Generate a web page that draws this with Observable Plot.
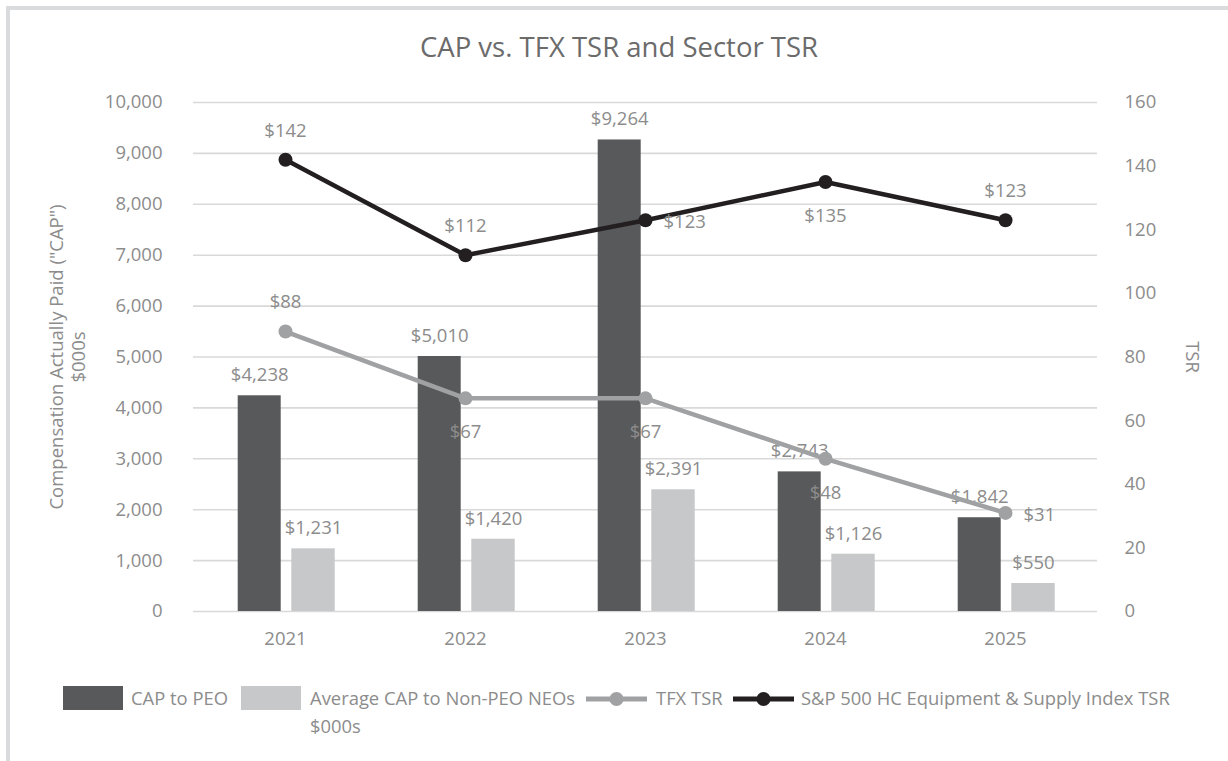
<!DOCTYPE html>
<html><head><meta charset="utf-8">
<script src="https://cdn.jsdelivr.net/npm/d3@7"></script>
<script src="https://cdn.jsdelivr.net/npm/@observablehq/plot@0.6"></script>
<style>
html,body{margin:0;padding:0;background:#fff;overflow:hidden;width:1228px;height:761px;}
#frame{position:absolute;left:6px;top:6px;width:1260px;height:800px;border:4px solid #dadbdc;box-sizing:border-box;}
#chart{position:absolute;left:0;top:0;}
#title{position:absolute;left:0;width:1238px;top:28px;text-align:center;font-family:"Open Sans";font-size:27.5px;color:#6b6b6b;white-space:nowrap;}
#legend{position:absolute;left:0;top:0;font-family:"Open Sans";font-size:18.4px;color:#8c8c8c;}
.sw{position:absolute;}
.lt{position:absolute;white-space:nowrap;line-height:28px;}
</style></head>
<body>
<div id="frame"></div>
<div id="chart"></div>
<div id="title">CAP vs. TFX TSR and Sector TSR</div>
<div id="legend"></div>
<script>
// ---- data ----
const years = ["2021", "2022", "2023", "2024", "2025"];
const capPEO = [4238, 5010, 9264, 2743, 1842];
const capNonPEO = [1231, 1420, 2391, 1126, 550];
const tfxTSR = [88, 67, 67, 48, 31];
const sectorTSR = [142, 112, 123, 135, 123];
const leftTicks = [0, 1000, 2000, 3000, 4000, 5000, 6000, 7000, 8000, 9000, 10000];
const rightTicks = [0, 20, 40, 60, 80, 100, 120, 140, 160];
const seriesNames = ["CAP to PEO", "Average CAP to Non-PEO NEOs\n$000s", "TFX TSR", "S&P 500 HC Equipment & Supply Index TSR"];
const leftTitle = "Compensation Actually Paid (\"CAP\")\n$000s";
const rightTitle = "TSR";

// ---- drawing ----
const C_PEO = "#58595b", C_NON = "#c7c8ca", C_TFX = "#a0a1a3", C_SEC = "#231f20", C_TXT = "#8c8c8c";
const k = 10000 / 160; // right axis -> left axis units
const tfxPlace = ["above", "below", "below", "below", "right"];
const secPlace = ["above", "above", "right", "below", "above"];
const rows = years.map((y, i) => ({
  year: y, peo: capPEO[i], non: capNonPEO[i],
  tfx: tfxTSR[i] * k, tfxV: tfxTSR[i], tfxP: tfxPlace[i],
  sec: sectorTSR[i] * k, secV: sectorTSR[i], secP: secPlace[i]
}));
const money = d3.format("$,");
const comma = d3.format(",");
const ts = {fill: C_TXT, fontSize: 18.5};
const place = {above: {dy: -29}, below: {dy: 34}, right: {dx: 18, dy: 2, textAnchor: "start"}};
function tsrLabels(yk, vk, pk) {
  return Object.entries(place).map(([p, o]) =>
    Plot.text(rows.filter(r => r[pk] === p), {x: "year", y: yk, text: r => money(r[vk]), ...ts, ...o}));
}

const chart = Plot.plot({
  width: 1228, height: 665,
  marginLeft: 193, marginRight: 131, marginTop: 102, marginBottom: 54,
  style: {background: "transparent", fontFamily: "Open Sans", fontSize: "18.5px", color: C_TXT},
  x: {type: "band", domain: years, padding: 0},
  y: {domain: [0, 10000]},
  marks: [
    Plot.gridY(leftTicks, {stroke: "#d9d9d9", strokeOpacity: 1, strokeWidth: 1.6}),
    Plot.barY(rows, {x: "year", y: "peo", fill: C_PEO, insetLeft: 42.7, insetRight: 94.3}),
    Plot.barY(rows, {x: "year", y: "non", fill: C_NON, insetLeft: 96.3, insetRight: 40.3}),
    Plot.text(rows, {x: "year", y: "peo", text: r => money(r.peo), dx: -25.8, dy: -20.5, ...ts}),
    Plot.text(rows, {x: "year", y: "non", text: r => money(r.non), dx: 28, dy: -20.5, ...ts}),
    Plot.line(rows, {x: "year", y: "tfx", stroke: C_TFX, strokeWidth: 4.5}),
    Plot.dot(rows, {x: "year", y: "tfx", fill: C_TFX, r: 7}),
    Plot.line(rows, {x: "year", y: "sec", stroke: C_SEC, strokeWidth: 4.5}),
    Plot.dot(rows, {x: "year", y: "sec", fill: C_SEC, r: 7}),
    ...tsrLabels("tfx", "tfxV", "tfxP"),
    ...tsrLabels("sec", "secV", "secP"),
    Plot.axisY(leftTicks, {anchor: "left", tickSize: 0, tickPadding: 31, tickFormat: comma, label: null, fill: C_TXT}),
    Plot.axisY(rightTicks.map(t => t * k), {anchor: "right", tickSize: 0, tickPadding: 27, tickFormat: d => Math.round(d / k), label: null, fill: C_TXT}),
    Plot.axisX({tickSize: 0, tickPadding: 20, label: null, fill: C_TXT}),
    Plot.text([leftTitle], {frameAnchor: "left", textAnchor: "middle", text: d => d, rotate: -90, dx: -127, lineHeight: 1.2, ...ts}),
    Plot.text([rightTitle], {frameAnchor: "right", textAnchor: "middle", text: d => d, rotate: 90, dx: 94, ...ts})
  ]
});
document.getElementById("chart").appendChild(chart);

// legend (HTML, below the plot)
const lg = document.getElementById("legend");
const legendItems = [
  {kind: "rect", color: C_PEO, sx: 63, tx: 131},
  {kind: "rect", color: C_NON, sx: 241, tx: 310},
  {kind: "line", color: C_TFX, sx: 586, tx: 656},
  {kind: "line", color: C_SEC, sx: 733, tx: 801}
];
legendItems.forEach((it, i) => {
  if (it.kind === "rect") {
    const s = document.createElement("div");
    s.className = "sw";
    Object.assign(s.style, {left: it.sx + "px", top: "686px", width: "60px", height: "24px", background: it.color});
    lg.appendChild(s);
  } else {
    const ns = "http://www.w3.org/2000/svg";
    const svg = document.createElementNS(ns, "svg");
    svg.setAttribute("width", 61); svg.setAttribute("height", 20);
    svg.setAttribute("class", "sw");
    Object.assign(svg.style, {left: it.sx + "px", top: "689px"});
    const l = document.createElementNS(ns, "line");
    l.setAttribute("x1", 0); l.setAttribute("x2", 61); l.setAttribute("y1", 10); l.setAttribute("y2", 10);
    l.setAttribute("stroke", it.color); l.setAttribute("stroke-width", 5);
    const c = document.createElementNS(ns, "circle");
    c.setAttribute("cx", 30.5); c.setAttribute("cy", 10); c.setAttribute("r", 7); c.setAttribute("fill", it.color);
    svg.appendChild(l); svg.appendChild(c);
    lg.appendChild(svg);
  }
  const t = document.createElement("div");
  t.className = "lt";
  Object.assign(t.style, {left: it.tx + "px", top: "684px"});
  t.innerHTML = seriesNames[i].split("\n").map(s => s.replace(/&/g, "&amp;")).join("<br>");
  lg.appendChild(t);
});
</script>
</body></html>
